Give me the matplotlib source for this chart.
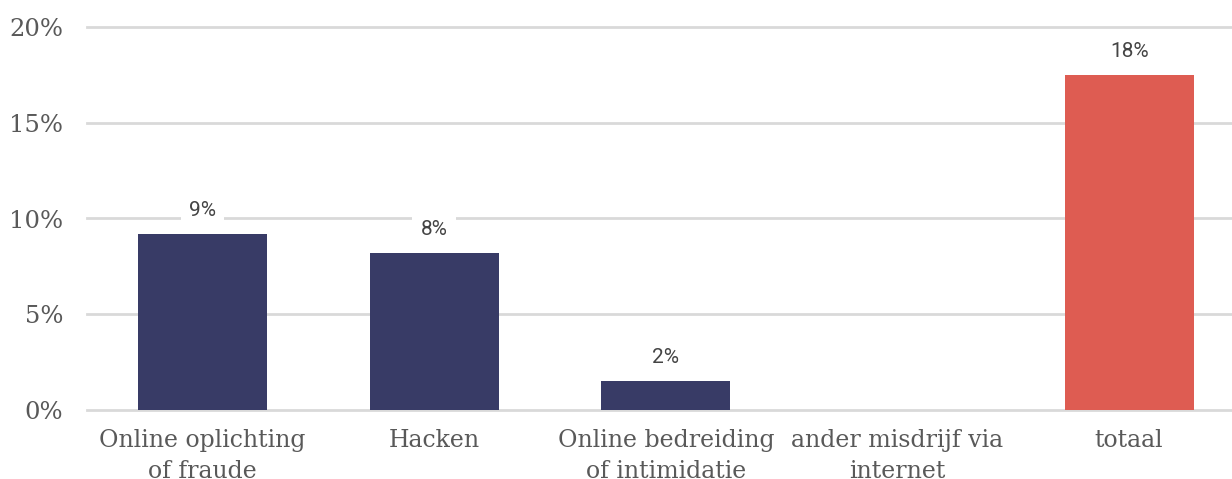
import numpy as np
import matplotlib
matplotlib.use('Agg')
import matplotlib.pyplot as plt

# data
categories = ['Online oplichting\nof fraude', 'Hacken', 'Online bedreiding\nof intimidatie',
              'ander misdrijf via\ninternet', 'totaal']
values = [9.2, 8.2, 1.5, 0.0, 17.5]
bar_colors = ['#383B66', '#383B66', '#383B66', '#383B66', '#DE5C52']
yticks = [0, 5, 10, 15, 20]
ytick_labels = ['0%', '5%', '10%', '15%', '20%']

fig = plt.figure(figsize=(12.32, 4.79), dpi=100)
ax = fig.add_axes([86.75 / 1232, 1 - 410 / 479, (1245 - 86.75) / 1232, 383 / 479])

x = np.arange(len(categories))
bars = ax.bar(x, values, width=0.557, color=bar_colors, zorder=2)

for xi, v in zip(x, values):
    if v > 0:
        ax.annotate(f'{round(v)}%', (xi, v), xytext=(0, 17), textcoords='offset points',
                    ha='center', va='center', fontsize=15, color='#444444',
                    family='Roboto', zorder=3,
                    bbox=dict(boxstyle='square,pad=0.4', fc='white', ec='none'))

ax.set_xlim(-0.5, len(categories) - 0.5)
ax.set_ylim(0, 20)
ax.set_yticks(yticks)
ax.set_yticklabels(ytick_labels)
ax.set_xticks(x)
ax.set_xticklabels(categories, linespacing=1.4)
ax.grid(axis='y', color='#D9D9D9', linewidth=2, zorder=0)
for gl in ax.get_ygridlines():
    gl.set_clip_on(False)
ax.set_axisbelow(True)
for s in ax.spines.values():
    s.set_visible(False)
ax.tick_params(axis='y', length=0, pad=17, labelsize=17.5, labelcolor='#595959')
ax.tick_params(axis='x', length=0, pad=14, labelsize=17, labelcolor='#595959')
for lab in ax.get_xticklabels() + ax.get_yticklabels():
    lab.set_family('DejaVu Serif')

plt.savefig('out.png', dpi=100)
plt.close()
